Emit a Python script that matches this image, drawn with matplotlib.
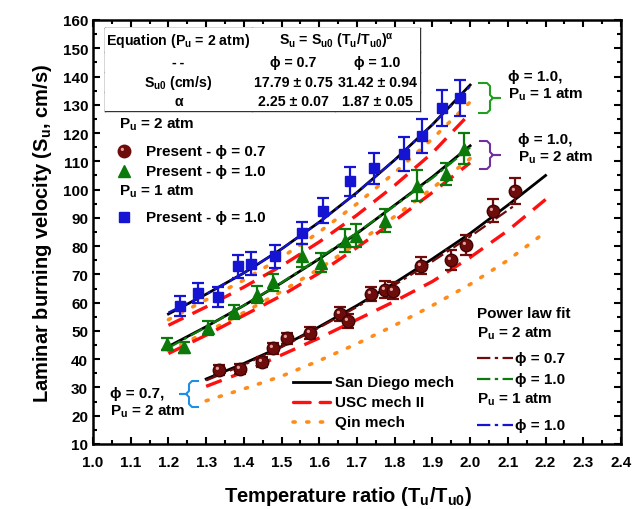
import matplotlib
matplotlib.use("Agg")
import matplotlib.pyplot as plt
from matplotlib.ticker import MultipleLocator
from matplotlib.path import Path
import numpy as np

plt.rcParams['font.family'] = ['Liberation Sans', 'DejaVu Sans']
plt.rcParams['font.weight'] = 'bold'
plt.rcParams['mathtext.fontset'] = 'custom'
plt.rcParams['mathtext.rm'] = 'Liberation Sans:bold'
plt.rcParams['mathtext.it'] = 'Liberation Sans:bold'
plt.rcParams['mathtext.bf'] = 'Liberation Sans:bold'

PHI = "\u03d5"

# ---- measured data (Pu = 2 atm, phi = 0.7)
t_07 = [1.334, 1.391, 1.447, 1.477, 1.515, 1.575, 1.655, 1.677, 1.737, 1.774, 1.796, 1.87, 1.95, 1.99, 2.06, 2.12]
su_07 = [36.3, 36.5, 39.1, 43.9, 47.4, 49.3, 56.0, 53.6, 63.0, 64.5, 64.2, 73.0, 75.0, 80.5, 92.5, 99.5]
err_07 = [1.8, 1.8, 1.8, 2.0, 2.0, 2.0, 2.5, 2.5, 2.5, 3.0, 3.0, 3.0, 3.5, 3.5, 4.0, 4.5]

# ---- measured data (Pu = 2 atm, phi = 1.0)
t_10 = [1.195, 1.242, 1.306, 1.374, 1.434, 1.478, 1.553, 1.605, 1.668, 1.697, 1.773, 1.858, 1.935, 1.985]
su_10 = [45.4, 44.2, 51.0, 56.6, 62.8, 67.2, 76.6, 74.2, 81.9, 83.7, 89.0, 101.4, 105.5, 114.4]
err_10 = [2.0, 2.0, 2.5, 2.5, 3.0, 3.0, 4.0, 3.5, 4.0, 4.0, 4.0, 5.5, 4.0, 5.5]

# ---- measured data (Pu = 1 atm, phi = 1.0)
t_1atm = [1.231, 1.279, 1.331, 1.385, 1.418, 1.483, 1.553, 1.611, 1.682, 1.746, 1.825, 1.872, 1.926, 1.973]
su_1atm = [58.9, 63.4, 62.0, 72.9, 73.8, 76.4, 84.7, 92.6, 102.9, 107.6, 112.6, 119.1, 128.9, 132.4]
err_1atm = [3.5, 3.5, 3.5, 4.0, 4.0, 4.0, 4.0, 4.5, 5.0, 5.5, 6.0, 6.0, 6.5, 6.5]

# ---- mechanism curves
tm_07 = [1.3, 1.4, 1.5, 1.6, 1.7, 1.8, 1.9, 2.0, 2.1, 2.2]
sd_07 = [33.0, 38.5, 44.5, 51.5, 59.0, 67.0, 75.5, 84.5, 94.5, 105.0]
usc_07 = [30.4, 35.5, 41.5, 47.5, 54.0, 60.5, 67.5, 76.0, 85.5, 96.5]
qin_07 = [25.3, 29.5, 34.0, 39.5, 45.5, 52.0, 59.0, 66.5, 75.0, 85.0]

tm_10 = [1.2, 1.3, 1.4, 1.5, 1.6, 1.7, 1.8, 1.9, 2.0]
sd_10 = [44.5, 51.5, 59.0, 67.0, 75.5, 84.5, 94.5, 104.5, 115.5]
usc_10 = [42.0, 48.5, 55.5, 62.5, 70.5, 79.5, 89.0, 99.0, 109.5]
qin_10 = [43.0, 49.5, 56.5, 64.0, 72.0, 81.0, 90.5, 100.5, 111.0]

sd_1atm = [56.0, 63.0, 70.5, 79.0, 88.5, 99.0, 110.5, 123.0, 137.0]
usc_1atm = [52.0, 58.5, 65.5, 73.0, 81.5, 91.0, 101.5, 113.0, 127.0]
qin_1atm = [54.0, 61.0, 68.0, 76.0, 85.0, 95.0, 106.0, 118.0, 131.0]

# ---- power law fits
tf_07 = [1.3, 1.4, 1.5, 1.6, 1.7, 1.8, 1.9, 2.0, 2.1, 2.12]
fit_07 = [32.5, 38.0, 44.3, 51.2, 58.5, 66.3, 74.6, 83.4, 92.7, 94.6]
fit_10 = [44.0, 51.4, 59.0, 67.1, 75.8, 84.8, 94.3, 104.1, 114.9]
fit_1atm = [56.5, 63.0, 70.5, 79.0, 88.5, 99.0, 110.5, 123.0, 136.5]

W, H = 635, 510
fig = plt.figure(figsize=(W / 100, H / 100), dpi=100)
ax = fig.add_axes([93 / W, 1 - 445 / H, (621 - 93) / W, (445 - 21) / H])


def fp(x, y):
    return x / W, 1 - y / H


c_red = '#6e0c0c'
c_green = '#0b7a0b'
c_blue = '#1414d2'
c_usc = '#ff1010'
c_qin = '#ff8c1a'
DASHDOT = (0, (6, 2, 1.5, 2))

# small shiny spot for the "sphere" look of the circle markers
_circ = Path.circle((-0.17, 0.17), 0.13)
highlight = Path(np.vstack([[[0.5, 0.5]], _circ.vertices]),
                 np.concatenate([[Path.MOVETO], _circ.codes]))

# mechanism curves
for tm, sd, usc, qin in [(tm_07, sd_07, usc_07, qin_07),
                         (tm_10, sd_10, usc_10, qin_10),
                         (tm_10, sd_1atm, usc_1atm, qin_1atm)]:
    ax.plot(tm, qin, color=c_qin, lw=2.6, linestyle=(0, (0.6, 3.2)), dash_capstyle='round', zorder=2)
    ax.plot(tm, usc, color=c_usc, lw=2.4, linestyle=(0, (5, 3)), zorder=2)
    ax.plot(tm, sd, color='black', lw=2.0, zorder=3)

ax.plot(tf_07, fit_07, color=c_red, lw=1.6, linestyle=DASHDOT, zorder=4)
ax.plot(tm_10, fit_10, color=c_green, lw=1.6, linestyle=DASHDOT, zorder=4)
ax.plot(tm_10, fit_1atm, color=c_blue, lw=1.6, linestyle=DASHDOT, zorder=4)

# measured points
ax.errorbar(t_07, su_07, yerr=err_07, fmt='o', ms=9, color=c_red, mec='#400404',
            elinewidth=1.6, capsize=4, capthick=1.6, zorder=5)
ax.plot(t_07, su_07, ls='none', marker=highlight, ms=9, color='#e8a0a0', mew=0, zorder=6)
ax.errorbar(t_10, su_10, yerr=err_10, fmt='^', ms=9, color=c_green, mec=c_green,
            elinewidth=1.6, capsize=4, capthick=1.6, zorder=5)
ax.errorbar(t_1atm, su_1atm, yerr=err_1atm, fmt='s', ms=7.5, color=c_blue, mec=c_blue,
            elinewidth=1.6, capsize=4, capthick=1.6, zorder=5)

ax.set_xlim(1.0, 2.4)
ax.set_ylim(10, 160)
ax.xaxis.set_major_locator(MultipleLocator(0.1))
ax.xaxis.set_minor_locator(MultipleLocator(0.05))
ax.yaxis.set_major_locator(MultipleLocator(10))
ax.yaxis.set_minor_locator(MultipleLocator(5))
ax.xaxis.set_major_formatter(plt.FuncFormatter(lambda v, p: f"{v:.1f}"))
ax.tick_params(which='both', direction='in', top=True, right=True, width=1.5, labelsize=11)
ax.tick_params(which='major', length=5)
ax.tick_params(which='minor', length=3)
ax.tick_params(axis='x', which='major', pad=8)
for s in ax.spines.values():
    s.set_linewidth(1.8)

ax.set_xlabel("Temperature ratio (T$_u$/T$_{u0}$)", fontsize=14.5, fontweight='bold')
ax.xaxis.set_label_coords(0.483, -0.095)
ax.set_ylabel("Laminar burning velocity (S$_u$, cm/s)", fontsize=14.5, fontweight='bold', labelpad=6)

# ---- table in the upper left corner
tx0, tx1, tx2, tx3 = 105, 252, 335, 420
ty = [29, 53, 73, 93, 112]
lw_t = 1.0
fig.patches.append(plt.Rectangle(fp(tx0, ty[-1]), (tx3 - tx0) / W, (ty[-1] - ty[0]) / H,
                                 transform=fig.transFigure, facecolor='white', edgecolor='none', zorder=5))
for y in ty:
    ax.plot([fp(tx0, y)[0], fp(tx3, y)[0]], [fp(tx0, y)[1]] * 2, color='#333333', lw=lw_t,
            transform=fig.transFigure, clip_on=False, zorder=6)
for x, ya in [(tx0, ty[0]), (tx1, ty[0]), (tx2, ty[1]), (tx3, ty[0])]:
    ax.plot([fp(x, 0)[0]] * 2, [fp(x, ya)[1], fp(x, ty[-1])[1]], color='#333333', lw=lw_t,
            transform=fig.transFigure, clip_on=False, zorder=6)

rows = [
    ("Equation (P$_u$ = 2 atm)", "S$_u$ = S$_{u0}$ (T$_u$/T$_{u0}$)$^{\\alpha}$", None),
    ("-\u2009-", f"{PHI} = 0.7", f"{PHI} = 1.0"),
    ("S$_{u0}$ (cm/s)", "17.79 \u00b1 0.75", "31.42 \u00b1 0.94"),
    ("\u03b1", "2.25 \u00b1 0.07", "1.87 \u00b1 0.05"),
]
tfs = 10.2
for i, (a, b, c) in enumerate(rows):
    yc = (ty[i] + ty[i + 1]) / 2
    fig.text(*fp((tx0 + tx1) / 2, yc), a, ha='center', va='center', fontsize=tfs, zorder=7)
    if c is None:
        fig.text(*fp((tx1 + tx3) / 2, yc), b, ha='center', va='center', fontsize=tfs, zorder=7)
    else:
        fig.text(*fp((tx1 + tx2) / 2, yc), b, ha='center', va='center', fontsize=tfs, zorder=7)
        fig.text(*fp((tx2 + tx3) / 2, yc), c, ha='center', va='center', fontsize=tfs, zorder=7)

# ---- legend for measured data
fs = 11
fig.text(*fp(119, 125), "P$_u$ = 2 atm", ha='left', va='center', fontsize=fs)
fig.text(*fp(146, 152), f"Present - {PHI} = 0.7", ha='left', va='center', fontsize=fs)
fig.text(*fp(146, 172), f"Present - {PHI} = 1.0", ha='left', va='center', fontsize=fs)
fig.text(*fp(119, 192), "P$_u$ = 1 atm", ha='left', va='center', fontsize=fs)
fig.text(*fp(146, 218), f"Present - {PHI} = 1.0", ha='left', va='center', fontsize=fs)
for (x, y), m, c, ms in [((124, 152), 'o', c_red, 9), ((124, 172), '^', c_green, 9),
                         ((124, 218), 's', c_blue, 7.5)]:
    ax.plot(*fp(x, y), marker=m, color=c, ms=ms, transform=fig.transFigure, clip_on=False)
ax.plot(*fp(124, 152), marker=highlight, color='#e8a0a0', ms=9, mew=0,
        transform=fig.transFigure, clip_on=False)

# ---- legend for mechanisms
for y, col, ls, lw in [(383, 'black', '-', 2.0), (403, c_usc, (0, (5, 3)), 2.4),
                       (423, c_qin, (0, (0.6, 3.2)), 2.6)]:
    ax.plot([fp(293, y)[0], fp(330, y)[0]], [fp(293, y)[1]] * 2, color=col, ls=ls, lw=lw,
            dash_capstyle='round', transform=fig.transFigure, clip_on=False)
fig.text(*fp(335, 383), "San Diego mech", ha='left', va='center', fontsize=fs)
fig.text(*fp(335, 403), "USC mech II", ha='left', va='center', fontsize=fs)
fig.text(*fp(335, 423), "Qin mech", ha='left', va='center', fontsize=fs)

# ---- legend for power law fits
fig.text(*fp(477, 314), "Power law fit", ha='left', va='center', fontsize=fs)
fig.text(*fp(477, 334), "P$_u$ = 2 atm", ha='left', va='center', fontsize=fs)
fig.text(*fp(477, 400), "P$_u$ = 1 atm", ha='left', va='center', fontsize=fs)
for y, col, lab in [(359, c_red, f"{PHI} = 0.7"), (380, c_green, f"{PHI} = 1.0"), (426, c_blue, f"{PHI} = 1.0")]:
    ax.plot([fp(477, y)[0], fp(513, y)[0]], [fp(477, y)[1]] * 2, color=col, lw=1.6,
            ls=DASHDOT, transform=fig.transFigure, clip_on=False)
    fig.text(*fp(515, y), lab, ha='left', va='center', fontsize=fs)


# ---- braces and labels
def brace(x_open, x_mid, x_tip, y0, y1, color):
    ym = (y0 + y1) / 2
    d = 3 if x_tip > x_open else -3
    pts = [(x_open, y0), (x_mid - d, y0), (x_mid, y0 + 3), (x_mid, ym - 3), (x_mid + d, ym),
           (x_tip, ym), (x_mid + d, ym), (x_mid, ym + 3), (x_mid, y1 - 3), (x_mid - d, y1), (x_open, y1)]
    xs = [fp(p[0], p[1])[0] for p in pts]
    ys = [fp(p[0], p[1])[1] for p in pts]
    ax.plot(xs, ys, color=color, lw=1.5, transform=fig.transFigure, clip_on=False)


brace(479, 490, 500, 84, 114, '#1f9e1f')
brace(480, 490, 500, 142, 170, '#7030a0')
brace(198, 189, 180, 382, 408, '#1e8fe6')

fig.text(*fp(508, 77), f"{PHI} = 1.0,", ha='left', va='center', fontsize=fs)
fig.text(*fp(508, 95), "P$_u$ = 1 atm", ha='left', va='center', fontsize=fs)
fig.text(*fp(518, 140), f"{PHI} = 1.0,", ha='left', va='center', fontsize=fs)
fig.text(*fp(518, 158), "P$_u$ = 2 atm", ha='left', va='center', fontsize=fs)
fig.text(*fp(110, 394), f"{PHI} = 0.7,", ha='left', va='center', fontsize=fs)
fig.text(*fp(110, 412), "P$_u$ = 2 atm", ha='left', va='center', fontsize=fs)

fig.savefig("out.png", dpi=100)
